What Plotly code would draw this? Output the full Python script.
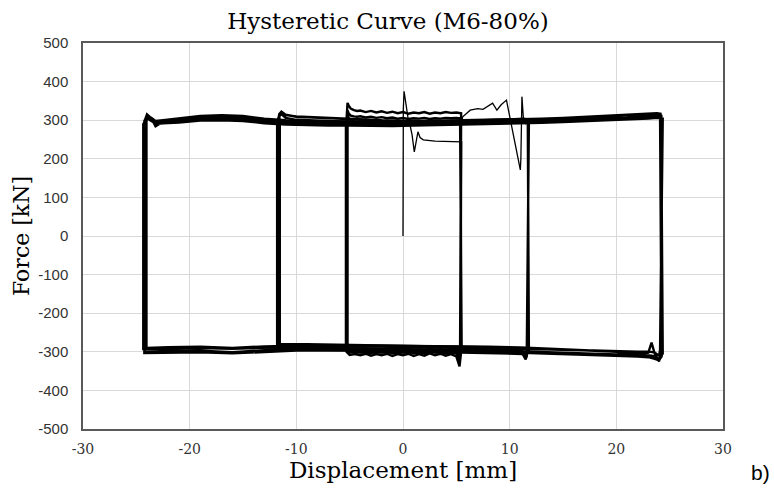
import plotly.graph_objects as go

# ---------------- data ----------------
# initial loading branch (first pull to ~5.5 mm)
init_disp = [0.0, 0.0, 0.03, 0.1, 0.3, 0.5, 0.66, 0.85, 1.06, 1.2, 1.4, 1.6, 1.9, 3.0, 4.0, 5.0, 5.5]
init_force = [0, 150, 330, 375, 330, 300, 287, 262, 218, 240, 270, 255, 249, 246, 245, 244, 244]

# small cycles (+-5.4 mm)
small_bot_x = [5.3, 5.0, 4.5, 4.0, 3.5, 3.0, 2.5, 2.0, 1.5, 1.0, 0.5, 0.0, -0.5, -1.0, -1.5,
               -2.0, -2.5, -3.0, -3.5, -4.0, -4.5, -5.0]
small_top_x = [-5.2, -5.1, -4.9, -4.6, -4.3, -4.0, -3.5, -3.0, -2.5, -2.0, -1.5, -1.0, -0.5, 0.0,
               0.5, 1.0, 1.5, 2.0, 2.5, 3.0, 3.5, 4.0, 4.5, 5.0]
small_right = [5.45, 5.35, 5.5]
small_left = [-5.3, -5.2, -5.35]
small_bot_f = [
    [-300, -338, -312, -306, -310, -305, -309, -304, -310, -306, -311, -305, -309, -306, -311, -305,
     -309, -306, -310, -305, -309, -306, -308, -300],
    [-298, -325, -304, -300, -303, -299, -302, -298, -303, -300, -304, -299, -302, -300, -304, -299,
     -302, -300, -303, -299, -302, -300, -301, -296],
    [-296, -312, -296, -294, -296, -293, -295, -292, -295, -293, -296, -292, -294, -293, -296, -292,
     -294, -293, -295, -292, -294, -293, -294, -290],
]
small_top_f = [
    [300, 345, 338, 330, 326, 324, 325, 321, 324, 320, 323, 319, 322, 318, 321, 317, 320, 318, 321,
     317, 320, 318, 321, 319, 320, 318],
    [296, 325, 318, 312, 310, 309, 310, 307, 309, 306, 308, 305, 307, 304, 306, 303, 305, 304, 306,
     303, 305, 304, 306, 305, 306, 305],
    [292, 315, 306, 300, 297, 296, 297, 295, 296, 294, 295, 293, 294, 293, 294, 292, 293, 292, 293,
     292, 293, 292, 293, 293, 294, 293],
]

# first excursion beyond 5.5 mm (jagged branch)
trans1_disp = [5.5, 5.6, 6.3, 7.0, 7.5, 8.0, 8.4, 8.8, 9.2, 9.7, 9.85, 10.4, 11.0, 11.05, 11.15,
               11.3, 11.5, 11.7, 11.7]
trans1_force = [296, 309, 326, 330, 328, 336, 344, 326, 340, 352, 331, 250, 171, 200, 361, 300, 290,
                300, 0]

# medium cycles (+-11.7 mm)
med_bot_x = [11.6, 11.5, 11.2, 10.5, 9, 7, 5, 3, 1, -1, -3, -5, -7, -9, -11]
med_top_x = [-11.6, -11.4, -11.0, -10, -8.5, -7, -5.5, -4, -2, 0, 2, 4, 6, 8, 10, 11.3]
med_right = [11.7, 11.8, 11.65]
med_left = [-11.7, -11.55, -11.8]
med_bot_f = [
    [-300, -310, -320, -305, -300, -298, -297, -296, -294, -293, -292, -291, -290, -290, -289, -288, -288],
    [-298, -305, -312, -298, -292, -289, -288, -287, -285, -284, -283, -282, -281, -281, -280, -280, -280],
    [-302, -315, -308, -306, -305, -304, -303, -302, -300, -299, -298, -297, -296, -296, -295, -294, -294],
]
med_top_f = [
    [300, 316, 322, 314, 309, 307, 305, 303, 300, 299, 298, 298, 298, 299, 300, 301, 302, 300],
    [296, 310, 316, 306, 301, 299, 297, 295, 293, 292, 291, 291, 291, 292, 293, 294, 295, 293],
    [298, 312, 318, 313, 310, 308, 306, 304, 302, 300, 299, 298, 298, 299, 300, 302, 304, 302],
]

# first excursion beyond 11.7 mm
trans2_disp = [11.65, 12.5, 14, 16, 18, 20, 22, 23.5, 24.2]
trans2_force = [298, 296, 298, 300, 302, 304, 306, 309, 310]

# large cycles (+-24.2 mm)
large_bot_x = [24.0, 23.6, 23.3, 23.0, 22, 20, 17, 14, 11, 8, 5, 2, -1, -4, -7, -10, -13, -16, -19,
               -22, -23.5]
large_top_x = [-24.0, -23.6, -23.2, -22.5, -21, -19, -17, -15, -13, -11, -9, -7, -5, -3, -1, 1, 3, 5,
               7, 9, 11, 13, 15, 17, 19, 21, 23, 23.8]
large_right = [24.2, 24.35, 24.1, 24.25]
large_left = [-24.2, -24.05, -24.35, -24.25]
large_bot_f = [
    [-300, -325, -305, -276, -302, -306, -307, -304, -301, -298, -296, -295, -294, -293, -292, -292,
     -293, -296, -301, -297, -298, -300, -300],
    [-305, -318, -312, -310, -309, -306, -300, -296, -292, -289, -287, -286, -285, -284, -283, -283,
     -284, -286, -290, -287, -288, -290, -290],
    [-295, -310, -302, -300, -299, -300, -298, -296, -294, -292, -290, -289, -288, -287, -286, -286,
     -287, -289, -292, -290, -291, -293, -293],
    [-312, -322, -318, -316, -314, -312, -311, -308, -305, -302, -300, -299, -298, -297, -296, -296,
     -297, -300, -304, -301, -302, -303, -303],
]
large_top_f = [
    [300, 315, 305, 284, 296, 300, 306, 308, 306, 300, 297, 295, 294, 294, 293, 293, 294, 294, 295,
     296, 296, 297, 300, 302, 304, 306, 308, 312, 314, 312],
    [295, 310, 300, 290, 292, 294, 299, 300, 298, 292, 289, 287, 286, 286, 285, 285, 286, 287, 288,
     289, 290, 291, 293, 295, 297, 299, 301, 304, 306, 304],
    [290, 305, 298, 292, 294, 297, 302, 304, 302, 296, 293, 291, 290, 290, 289, 289, 290, 291, 292,
     293, 294, 295, 297, 299, 301, 303, 305, 307, 309, 308],
    [298, 312, 306, 298, 300, 304, 311, 313, 311, 304, 300, 298, 297, 296, 296, 296, 297, 298, 299,
     300, 301, 302, 304, 306, 309, 311, 313, 316, 318, 316],
]

x_ticks = [-30, -20, -10, 0, 10, 20, 30]
y_ticks = [-500, -400, -300, -200, -100, 0, 100, 200, 300, 400, 500]


def build_cycles(bot_x, top_x, rights, lefts, bot_f, top_f):
    xs, ys = [], []
    for r, l, bf, tf in zip(rights, lefts, bot_f, top_f):
        xs += [r] + bot_x + [l, l] + top_x + [r]
        ys += bf + tf
    return xs, ys


sx, sy = build_cycles(small_bot_x, small_top_x, small_right, small_left, small_bot_f, small_top_f)
mx, my = build_cycles(med_bot_x, med_top_x, med_right, med_left, med_bot_f, med_top_f)
lx, ly = build_cycles(large_bot_x, large_top_x, large_right, large_left, large_bot_f, large_top_f)

fig = go.Figure()
thin = dict(color="black", width=1.3)
thick = dict(color="black", width=2.4)
fig.add_trace(go.Scatter(x=init_disp + [small_right[0]], y=init_force + [small_bot_f[0][0]],
                         mode="lines", line=thin, showlegend=False))
fig.add_trace(go.Scatter(x=sx, y=sy, mode="lines", line=thick, showlegend=False))
fig.add_trace(go.Scatter(x=trans1_disp + [med_right[0]], y=trans1_force + [med_bot_f[0][0]],
                         mode="lines", line=thin, showlegend=False))
fig.add_trace(go.Scatter(x=mx, y=my, mode="lines", line=thick, showlegend=False))
fig.add_trace(go.Scatter(x=trans2_disp + [large_right[0]], y=trans2_force + [large_bot_f[0][0]],
                         mode="lines", line=thick, showlegend=False))
fig.add_trace(go.Scatter(x=lx, y=ly, mode="lines", line=thick, showlegend=False))

serif = "DejaVu Serif"
fig.update_layout(
    width=774, height=492,
    margin=dict(l=83, r=51, t=43, b=63),
    paper_bgcolor="white", plot_bgcolor="white",
    title=dict(text="Hysteretic Curve (M6-80%)", x=388 / 774, xref="container", xanchor="center",
               y=1 - 21 / 492, yref="container", yanchor="middle",
               font=dict(family=serif, size=23, color="black")),
    xaxis=dict(range=[-30, 30], tickvals=x_ticks, ticktext=[str(v) for v in x_ticks],
               showgrid=True, gridcolor="#d9d9d9", gridwidth=1, zeroline=False,
               showline=True, linecolor="#595959", linewidth=1.5, mirror=True,
               ticks="", ticklabelstandoff=6,
               tickfont=dict(family=serif, size=14, color="#333333"),
               title=dict(text="Displacement [mm]", font=dict(family=serif, size=23, color="black"),
                          standoff=2)),
    yaxis=dict(range=[-500, 500], tickvals=y_ticks, ticktext=[str(v) for v in y_ticks],
               showgrid=True, gridcolor="#d9d9d9", gridwidth=1, zeroline=False,
               showline=True, linecolor="#595959", linewidth=1.5, mirror=True,
               ticks="", ticklabelstandoff=10,
               tickfont=dict(family="Liberation Sans", size=15, color="#333333"),
               title=dict(text="Force [kN]", font=dict(family=serif, size=22, color="black"),
                          standoff=3)),
    annotations=[dict(text="b)", x=(760 - 83) / (774 - 83 - 51), y=(492 - 63 - 472) / (492 - 43 - 63),
                      xref="paper", yref="paper", xanchor="center", yanchor="middle",
                      showarrow=False, font=dict(family="Liberation Sans", size=21, color="black"))],
)

fig.write_html("out.html")
